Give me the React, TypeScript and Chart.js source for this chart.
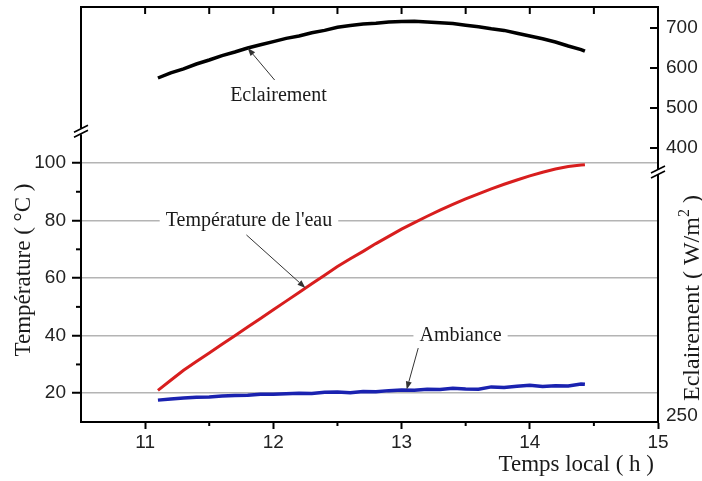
import { useEffect, useRef } from 'react';
import { Chart, registerables } from 'chart.js';

Chart.register(...registerables);

// ---- data ----
const timeHours = [
  11.1, 11.2, 11.3, 11.4, 11.5, 11.6, 11.7, 11.8, 11.9, 12.0,
  12.1, 12.2, 12.3, 12.4, 12.5, 12.6, 12.7, 12.8, 12.9, 13.0,
  13.1, 13.2, 13.3, 13.4, 13.5, 13.6, 13.7, 13.8, 13.9, 14.0,
  14.1, 14.2, 14.3, 14.4, 14.43,
];
const eclairement = [
  575, 588, 598, 610, 620, 631, 640, 650, 658, 666,
  674, 680, 688, 694, 702, 706, 710, 712, 715, 716,
  717, 715, 713, 711, 707, 703, 698, 694, 687, 680,
  673, 665, 655, 646, 642,
];
const waterTemp = [
  21, 24.5, 28, 31, 34, 37, 40, 43, 46, 49,
  52, 55, 58, 61, 64, 66.7, 69.3, 72, 74.5, 77,
  79.3, 81.5, 83.6, 85.6, 87.5, 89.3, 91, 92.6, 94.1, 95.5,
  96.8, 97.9, 98.8, 99.3, 99.4,
];
const ambientTemp = [
  17.6, 18.0, 18.3, 18.6, 18.7, 19.0, 19.2, 19.3, 19.6, 19.6,
  19.8, 20.0, 19.9, 20.3, 20.4, 20.2, 20.6, 20.5, 20.9, 21.1,
  21.0, 21.4, 21.3, 21.7, 21.5, 21.4, 22.2, 22.0, 22.4, 22.8,
  22.3, 22.6, 22.5, 23.2, 23.1,
];

const xTickValues = [11, 12, 13, 14, 15];
const xMinorTicks = [11.5, 12.5, 13.5, 14.5];
const xTopTicks = [11, 11.5, 12, 12.5, 13, 13.5, 14, 14.5];
const tempTickValues = [20, 40, 60, 80, 100];
const tempMinorTicks = [30, 50, 70, 90];
const eclTickValues = [400, 500, 600, 700];
const eclBottomLabel = '250';

const xTitle = 'Temps local ( h )';
const yLeftTitle = 'Température ( °C )';
const yRightTitleMain = 'Eclairement ( W/m';
const yRightTitleSup = '2';
const yRightTitleEnd = ' )';

const SERIF = '"Liberation Serif", "Times New Roman", serif';
const SANS = '"Liberation Sans", Arial, sans-serif';

const toPoints = (ys: number[]) => timeHours.map((t, i) => ({ x: t, y: ys[i] }));

export default function App() {
  const canvasRef = useRef<HTMLCanvasElement | null>(null);

  useEffect(() => {
    const canvas = canvasRef.current;
    if (!canvas) return;

    const eclMin = -285;
    const eclMax = 752.5;

    const decor = {
      id: 'decor',
      afterDraw(chart: any) {
        const { ctx, chartArea: ca, scales } = chart;
        const xs = scales.x;
        const yT = scales.yT;
        const yE = scales.yE;
        ctx.save();
        ctx.strokeStyle = '#000';
        ctx.lineWidth = 2;
        ctx.lineCap = 'butt';

        // top frame line
        ctx.beginPath();
        ctx.moveTo(ca.left - 1, ca.top);
        ctx.lineTo(ca.right + 1, ca.top);
        ctx.stroke();

        // top inward ticks
        for (const v of xTopTicks) {
          const px = xs.getPixelForValue(v);
          ctx.beginPath();
          ctx.moveTo(px, ca.top);
          ctx.lineTo(px, ca.top + 7);
          ctx.stroke();
        }
        // bottom minor ticks (outward)
        for (const v of xMinorTicks) {
          const px = xs.getPixelForValue(v);
          ctx.beginPath();
          ctx.moveTo(px, ca.bottom);
          ctx.lineTo(px, ca.bottom + 4);
          ctx.stroke();
        }
        // left minor ticks (outward)
        for (const v of tempMinorTicks) {
          const py = yT.getPixelForValue(v);
          ctx.beginPath();
          ctx.moveTo(ca.left, py);
          ctx.lineTo(ca.left - 5, py);
          ctx.stroke();
        }
        // right inward ticks
        for (const v of eclTickValues) {
          const py = yE.getPixelForValue(v);
          ctx.beginPath();
          ctx.moveTo(ca.right, py);
          ctx.lineTo(ca.right - 8, py);
          ctx.stroke();
        }

        // axis breaks
        const drawBreak = (x: number, y: number) => {
          ctx.save();
          ctx.fillStyle = '#fff';
          ctx.fillRect(x - 3, y - 3, 6, 6);
          ctx.strokeStyle = '#000';
          ctx.lineWidth = 1.6;
          ctx.beginPath();
          ctx.moveTo(x - 7, y + 1);
          ctx.lineTo(x + 7, y - 6);
          ctx.moveTo(x - 7, y + 6);
          ctx.lineTo(x + 7, y - 1);
          ctx.stroke();
          ctx.restore();
        };
        drawBreak(ca.left, yT.getPixelForValue(111));
        drawBreak(ca.right, yE.getPixelForValue(340));

        // annotations
        const label = (text: string, x: number, y: number, box: boolean) => {
          ctx.save();
          ctx.font = `20px ${SERIF}`;
          const w = ctx.measureText(text).width;
          if (box) {
            ctx.fillStyle = '#fff';
            ctx.fillRect(x - w / 2 - 6, y - 8, w + 12, 16);
          }
          ctx.fillStyle = '#1a1a1a';
          ctx.textAlign = 'center';
          ctx.textBaseline = 'middle';
          ctx.fillText(text, x, y);
          ctx.restore();
        };
        const arrow = (x1: number, y1: number, x2: number, y2: number) => {
          ctx.save();
          ctx.strokeStyle = '#333';
          ctx.fillStyle = '#333';
          ctx.lineWidth = 1;
          const ang = Math.atan2(y2 - y1, x2 - x1);
          const hl = 8;
          const bx = x2 - hl * Math.cos(ang);
          const by = y2 - hl * Math.sin(ang);
          ctx.beginPath();
          ctx.moveTo(x1, y1);
          ctx.lineTo(bx, by);
          ctx.stroke();
          ctx.beginPath();
          ctx.moveTo(x2, y2);
          ctx.lineTo(bx + 3 * Math.sin(ang), by - 3 * Math.cos(ang));
          ctx.lineTo(bx - 3 * Math.sin(ang), by + 3 * Math.cos(ang));
          ctx.closePath();
          ctx.fill();
          ctx.restore();
        };

        label('Eclairement', xs.getPixelForValue(12.04), yE.getPixelForValue(530), false);
        arrow(xs.getPixelForValue(12.01), yE.getPixelForValue(570), xs.getPixelForValue(11.8), yE.getPixelForValue(650));

        label("Température de l'eau", xs.getPixelForValue(11.81), yT.getPixelForValue(80), true);
        arrow(xs.getPixelForValue(11.79), yT.getPixelForValue(75), xs.getPixelForValue(12.25), yT.getPixelForValue(56.6));

        label('Ambiance', xs.getPixelForValue(13.46), yT.getPixelForValue(40), true);
        arrow(xs.getPixelForValue(13.13), yT.getPixelForValue(35.7), xs.getPixelForValue(13.04), yT.getPixelForValue(21.3));

        // axis titles
        ctx.fillStyle = '#1a1a1a';
        ctx.font = `23px ${SERIF}`;
        ctx.textAlign = 'right';
        ctx.textBaseline = 'middle';
        ctx.fillText(xTitle, ca.right - 4, ca.bottom + 43);

        ctx.save();
        ctx.translate(24, ca.bottom - 152);
        ctx.rotate(-Math.PI / 2);
        ctx.textAlign = 'center';
        ctx.font = `23px ${SERIF}`;
        ctx.fillText(yLeftTitle, 0, 0);
        ctx.restore();

        ctx.save();
        ctx.translate(ca.right + 35, ca.bottom - 124);
        ctx.rotate(-Math.PI / 2);
        ctx.textAlign = 'left';
        ctx.textBaseline = 'middle';
        ctx.font = `24px ${SERIF}`;
        const w1 = ctx.measureText(yRightTitleMain).width;
        ctx.font = `16px ${SERIF}`;
        const w2 = ctx.measureText(yRightTitleSup).width;
        ctx.font = `24px ${SERIF}`;
        const w3 = ctx.measureText(yRightTitleEnd).width;
        const total = w1 + w2 + w3;
        let cx = -total / 2;
        ctx.fillText(yRightTitleMain, cx, 0);
        cx += w1;
        ctx.font = `16px ${SERIF}`;
        ctx.fillText(yRightTitleSup, cx, -8);
        cx += w2;
        ctx.font = `24px ${SERIF}`;
        ctx.fillText(yRightTitleEnd, cx, 0);
        ctx.restore();

        ctx.restore();
      },
    };

    const tickFont = { family: SANS, size: 19 };
    const noPad = (s: any) => {
      s.paddingTop = 0;
      s.paddingBottom = 0;
      s.paddingLeft = 0;
      s.paddingRight = 0;
    };

    const chart = new Chart(canvas, {
      type: 'line',
      data: {
        datasets: [
          {
            label: 'Eclairement',
            data: toPoints(eclairement),
            yAxisID: 'yE',
            borderColor: '#000',
            borderWidth: 3.5,
            pointRadius: 0,
            tension: 0,
          },
          {
            label: "Température de l'eau",
            data: toPoints(waterTemp),
            yAxisID: 'yT',
            borderColor: '#d81e1e',
            borderWidth: 3,
            pointRadius: 0,
            tension: 0,
          },
          {
            label: 'Ambiance',
            data: toPoints(ambientTemp),
            yAxisID: 'yT',
            borderColor: '#1a22b0',
            borderWidth: 3.5,
            pointRadius: 0,
            tension: 0,
          },
        ],
      },
      options: {
        animation: false,
        responsive: false,
        devicePixelRatio: 1,
        layout: { padding: { top: 7, left: 0, right: 0, bottom: 0 } },
        plugins: { legend: { display: false }, tooltip: { enabled: false } },
        scales: {
          x: {
            type: 'linear',
            position: 'bottom',
            min: 10.5,
            max: 15,
            afterBuildTicks: (s: any) => {
              s.ticks = xTickValues.map((v) => ({ value: v }));
            },
            afterFit: (s: any) => {
              s.height = 59;
              noPad(s);
            },
            ticks: {
              font: tickFont,
              color: '#222',
              padding: 2,
              maxRotation: 0,
              autoSkip: false,
              callback: (v: any) => String(v),
            },
            grid: {
              display: true,
              drawOnChartArea: false,
              drawTicks: true,
              tickLength: 7,
              tickColor: '#000',
              tickWidth: 2,
            },
            border: { display: true, color: '#000', width: 2 },
          },
          yT: {
            type: 'linear',
            position: 'left',
            min: 10,
            max: 154.2,
            afterBuildTicks: (s: any) => {
              s.ticks = tempTickValues.map((v) => ({ value: v }));
            },
            afterFit: (s: any) => {
              s.width = 81;
              noPad(s);
            },
            ticks: {
              font: tickFont,
              color: '#222',
              padding: 6,
              autoSkip: false,
              callback: (v: any) => String(v),
            },
            grid: {
              display: true,
              drawOnChartArea: true,
              color: '#b4b4b4',
              lineWidth: 1.5,
              drawTicks: true,
              tickLength: 9,
              tickColor: '#000',
              tickWidth: 2,
            },
            border: { display: true, color: '#000', width: 2 },
          },
          yE: {
            type: 'linear',
            position: 'right',
            min: eclMin,
            max: eclMax,
            afterBuildTicks: (s: any) => {
              s.ticks = [{ value: eclMin + 15 }, ...eclTickValues.map((v) => ({ value: v }))];
            },
            afterFit: (s: any) => {
              s.width = 44;
              noPad(s);
            },
            ticks: {
              font: tickFont,
              color: '#222',
              padding: 8,
              autoSkip: false,
              callback: (v: any) => (v < 0 ? eclBottomLabel : String(v)),
            },
            grid: { display: false, drawTicks: false, tickLength: 0 },
            border: { display: true, color: '#000', width: 2 },
          },
        },
      },
      plugins: [decor],
    } as any);

    return () => {
      chart.destroy();
    };
  }, []);

  return (
    <div style={{ position: 'fixed', left: 0, top: 0, width: 702, height: 481, background: '#fff' }}>
      <canvas ref={canvasRef} width={702} height={481} style={{ width: 702, height: 481, display: 'block' }} />
    </div>
  );
}
